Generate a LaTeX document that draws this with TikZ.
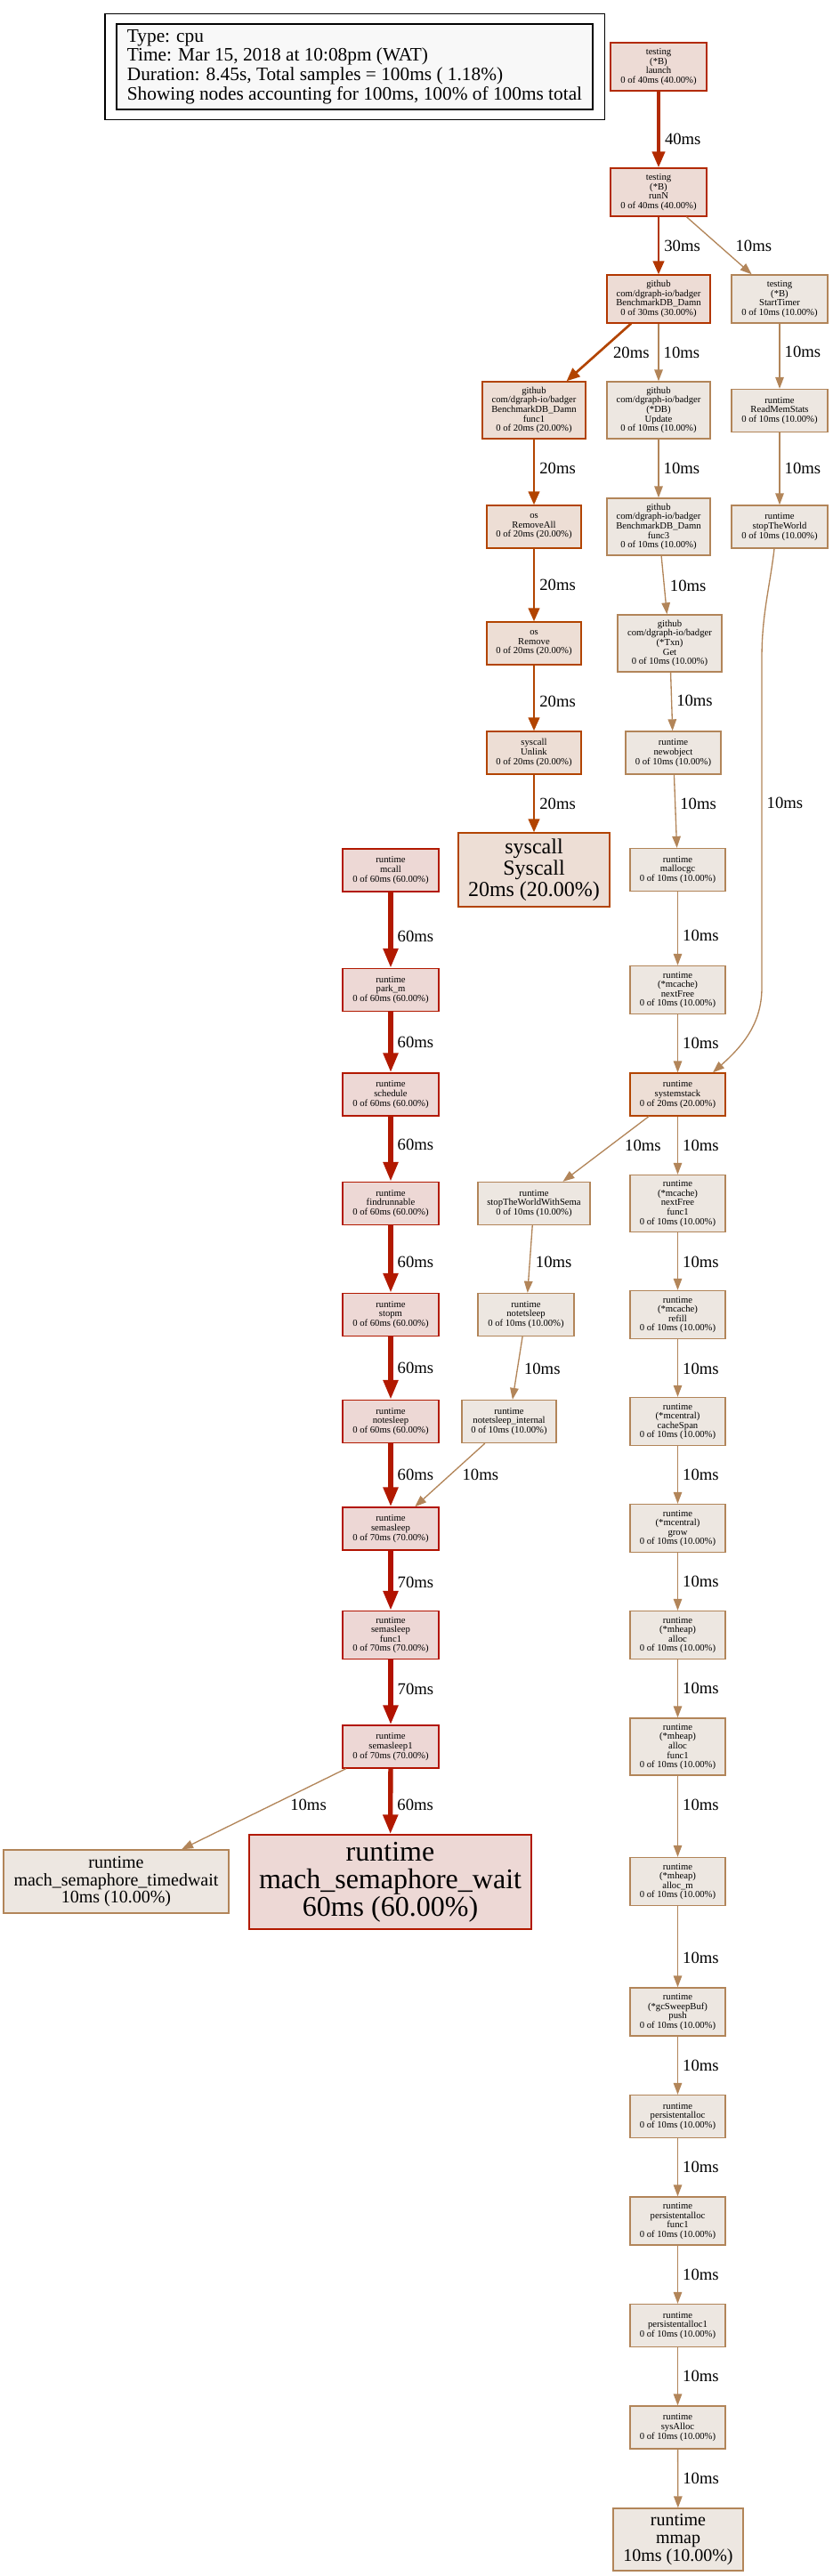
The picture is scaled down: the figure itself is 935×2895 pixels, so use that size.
\documentclass[tikz,border=0pt]{standalone}
\usepackage{fontspec}
\setmainfont{Liberation Serif}
\usepackage{tikz}
\usetikzlibrary{arrows.meta,fit}
\definecolor{line10}{HTML}{B28559}
\definecolor{line20}{HTML}{B24400}
\definecolor{line30}{HTML}{B23600}
\definecolor{line40}{HTML}{B22A00}
\definecolor{line60}{HTML}{B21900}
\definecolor{line70}{HTML}{B21200}
\definecolor{fill10}{HTML}{EDE7E1}
\definecolor{fill20}{HTML}{EDDED5}
\definecolor{fill30}{HTML}{EDDCD5}
\definecolor{fill40}{HTML}{EDDBD5}
\definecolor{fill60}{HTML}{EDD8D5}
\definecolor{fill70}{HTML}{EDD7D5}
\definecolor{legendfill}{HTML}{F8F8F8}
\newcommand\fsNode{\fontsize{10.67pt}{10.6pt}\selectfont}
\newcommand\fsEdge{\fontsize{18.67pt}{18.67pt}\selectfont}
\newcommand\fsLegend{\fontsize{21.33pt}{21.7pt}\selectfont}
\newcommand\fsMid{\fontsize{20pt}{19.7pt}\selectfont}
\newcommand\fsSys{\fontsize{24pt}{24pt}\selectfont}
\newcommand\fsWait{\fontsize{32pt}{31pt}\selectfont}

\begin{document}
\begin{tikzpicture}[x=1pt, y=-1pt,
  fn/.style={draw, line width=1.33pt, inner sep=0pt, align=center, font=\fsNode},
  n10/.style={fn, draw=line10, fill=fill10},
  n20/.style={fn, draw=line20, fill=fill20},
  n30/.style={fn, draw=line30, fill=fill30},
  n40/.style={fn, draw=line40, fill=fill40},
  n60/.style={fn, draw=line60, fill=fill60},
  n70/.style={fn, draw=line70, fill=fill70},
  sz/.style 2 args={minimum width=#1, minimum height=#2},
  legend/.style={draw=black, line width=1.33pt, fill=legendfill, align=left, font=\fsLegend,
                 inner xsep=10.5pt, inner ysep=0pt, minimum width=535pt, minimum height=96pt},
  lbl/.style={anchor=west, inner xsep=5pt, inner ysep=0pt, font=\fsEdge},
  e10/.style={-{Triangle[length=13pt,width=9.5pt]}, line width=1.33pt, draw=line10},
  e20/.style={-{Triangle[length=15pt,width=12.5pt]}, line width=2.67pt, draw=line20},
  e30/.style={-{Triangle[length=15pt,width=12.5pt]}, line width=2.67pt, draw=line30},
  e40/.style={-{Triangle[length=18pt,width=14pt]}, line width=4pt, draw=line40},
  e60/.style={-{Triangle[length=22pt,width=16pt]}, line width=5.33pt, draw=line60},
  e70/.style={-{Triangle[length=22pt,width=16pt]}, line width=5.33pt, draw=line70}]
\useasboundingbox (0,0) rectangle (935,2895);

\node[legend] (legend) at (398.5,75) {Type: cpu\\Time: Mar 15, 2018 at 10:08pm (WAT)\\Duration: 8.45s, Total samples = 100ms ( 1.18\%)\\Showing nodes accounting for 100ms, 100\% of 100ms total};
\node[draw, line width=1.33pt, inner xsep=12.5pt, inner ysep=11pt, fit=(legend)] (legendframe) {};

\node[n40, sz={108pt}{54pt}] (launch) at (740,75) {testing\\(*B)\\launch\\0 of 40ms (40.00\%)};
\node[n40, sz={108pt}{54pt}] (runN) at (740,216) {testing\\(*B)\\runN\\0 of 40ms (40.00\%)};
\node[n30, sz={116pt}{54pt}] (damn) at (740,336) {github\\com/dgraph-io/badger\\BenchmarkDB\_Damn\\0 of 30ms (30.00\%)};
\node[n10, sz={108pt}{54pt}] (starttimer) at (876,336) {testing\\(*B)\\StartTimer\\0 of 10ms (10.00\%)};
\node[n20, sz={116pt}{64pt}] (damnf1) at (600,461) {github\\com/dgraph-io/badger\\BenchmarkDB\_Damn\\func1\\0 of 20ms (20.00\%)};
\node[n10, sz={116pt}{64pt}] (update) at (740,461) {github\\com/dgraph-io/badger\\(*DB)\\Update\\0 of 10ms (10.00\%)};
\node[n10, sz={108pt}{48pt}] (readmem) at (876,461.5) {runtime\\ReadMemStats\\0 of 10ms (10.00\%)};
\node[n20, sz={106pt}{48pt}] (removeall) at (600,592) {os\\RemoveAll\\0 of 20ms (20.00\%)};
\node[n10, sz={116pt}{64pt}] (damnf3) at (740,592) {github\\com/dgraph-io/badger\\BenchmarkDB\_Damn\\func3\\0 of 10ms (10.00\%)};
\node[n10, sz={108pt}{48pt}] (stoptw) at (876,592) {runtime\\stopTheWorld\\0 of 10ms (10.00\%)};
\node[n20, sz={106pt}{48pt}] (remove) at (600,723) {os\\Remove\\0 of 20ms (20.00\%)};
\node[n10, sz={117pt}{64pt}] (get) at (752.5,723) {github\\com/dgraph-io/badger\\(*Txn)\\Get\\0 of 10ms (10.00\%)};
\node[n20, sz={106pt}{48pt}] (unlink) at (600,846) {syscall\\Unlink\\0 of 20ms (20.00\%)};
\node[n10, sz={107pt}{48pt}] (newobject) at (756.5,846) {runtime\\newobject\\0 of 10ms (10.00\%)};
\node[n20, sz={170pt}{83pt}, font=\fsSys] (syscall) at (600,977.5) {syscall\\Syscall\\20ms (20.00\%)};
\node[n10, sz={107pt}{48pt}] (mallocgc) at (761.5,977.5) {runtime\\mallocgc\\0 of 10ms (10.00\%)};

\node[n60, sz={108pt}{48pt}] (mcall) at (439,978) {runtime\\mcall\\0 of 60ms (60.00\%)};
\node[n60, sz={108pt}{48pt}] (parkm) at (439,1112.5) {runtime\\park\_m\\0 of 60ms (60.00\%)};
\node[n10, sz={107pt}{54pt}] (nextfree) at (761.5,1112.5) {runtime\\(*mcache)\\nextFree\\0 of 10ms (10.00\%)};
\node[n60, sz={108pt}{48pt}] (schedule) at (439,1230) {runtime\\schedule\\0 of 60ms (60.00\%)};
\node[n20, sz={107pt}{48pt}] (systemstack) at (761.5,1230) {runtime\\systemstack\\0 of 20ms (20.00\%)};
\node[n60, sz={108pt}{48pt}] (findrunnable) at (439,1352.5) {runtime\\findrunnable\\0 of 60ms (60.00\%)};
\node[n10, sz={126pt}{48pt}] (stwws) at (600,1352.5) {runtime\\stopTheWorldWithSema\\0 of 10ms (10.00\%)};
\node[n10, sz={107pt}{64pt}] (nextfreef1) at (761.5,1352.5) {runtime\\(*mcache)\\nextFree\\func1\\0 of 10ms (10.00\%)};
\node[n60, sz={108pt}{48pt}] (stopm) at (439,1477.5) {runtime\\stopm\\0 of 60ms (60.00\%)};
\node[n10, sz={108pt}{48pt}] (notetsleep) at (591,1477.5) {runtime\\notetsleep\\0 of 10ms (10.00\%)};
\node[n10, sz={107pt}{54pt}] (refill) at (761.5,1477.5) {runtime\\(*mcache)\\refill\\0 of 10ms (10.00\%)};
\node[n60, sz={108pt}{48pt}] (notesleep) at (439,1597.5) {runtime\\notesleep\\0 of 60ms (60.00\%)};
\node[n10, sz={106pt}{48pt}] (internal) at (572,1597.5) {runtime\\notetsleep\_internal\\0 of 10ms (10.00\%)};
\node[n10, sz={107pt}{54pt}] (cachespan) at (761.5,1597.5) {runtime\\(*mcentral)\\cacheSpan\\0 of 10ms (10.00\%)};
\node[n70, sz={108pt}{48pt}] (semasleep) at (439,1718) {runtime\\semasleep\\0 of 70ms (70.00\%)};
\node[n10, sz={107pt}{54pt}] (grow) at (761.5,1717.5) {runtime\\(*mcentral)\\grow\\0 of 10ms (10.00\%)};
\node[n70, sz={108pt}{54pt}] (semaf1) at (439,1837.5) {runtime\\semasleep\\func1\\0 of 70ms (70.00\%)};
\node[n10, sz={107pt}{54pt}] (alloc) at (761.5,1837.5) {runtime\\(*mheap)\\alloc\\0 of 10ms (10.00\%)};
\node[n70, sz={108pt}{48pt}] (semasleep1) at (439,1963) {runtime\\semasleep1\\0 of 70ms (70.00\%)};
\node[n10, sz={107pt}{64pt}] (allocf1) at (761.5,1963) {runtime\\(*mheap)\\alloc\\func1\\0 of 10ms (10.00\%)};
\node[n10, sz={253pt}{71pt}, font=\fsMid] (timedwait) at (130.5,2114.5) {runtime\\mach\_semaphore\_timedwait\\10ms (10.00\%)};
\node[n60, sz={317pt}{106pt}, font=\fsWait] (wait) at (438.5,2115) {runtime\\mach\_semaphore\_wait\\60ms (60.00\%)};
\node[n10, sz={107pt}{54pt}] (allocm) at (761.5,2114.5) {runtime\\(*mheap)\\alloc\_m\\0 of 10ms (10.00\%)};
\node[n10, sz={107pt}{54pt}] (push) at (761.5,2261) {runtime\\(*gcSweepBuf)\\push\\0 of 10ms (10.00\%)};
\node[n10, sz={107pt}{48pt}] (pa) at (761.5,2378.5) {runtime\\persistentalloc\\0 of 10ms (10.00\%)};
\node[n10, sz={107pt}{54pt}] (paf1) at (761.5,2496) {runtime\\persistentalloc\\func1\\0 of 10ms (10.00\%)};
\node[n10, sz={107pt}{48pt}] (pa1) at (761.5,2613.5) {runtime\\persistentalloc1\\0 of 10ms (10.00\%)};
\node[n10, sz={107pt}{48pt}] (sysalloc) at (761.5,2728) {runtime\\sysAlloc\\0 of 10ms (10.00\%)};
\node[n10, sz={146pt}{70pt}, font=\fsMid] (mmap) at (762,2854) {runtime\\mmap\\10ms (10.00\%)};

\draw[e40] (launch) -- node[lbl, pos=.63] {40ms} (runN);
\draw[e30] (runN) -- node[lbl, pos=.5] {30ms} (damn);
\draw[e10] (runN) -- node[lbl, pos=.5, xshift=13pt] {10ms} (starttimer);
\draw[e20] (damn) -- node[lbl, pos=.5, xshift=10pt] {20ms} (damnf1);
\draw[e10] (damn) -- node[lbl, pos=.5] {10ms} (update);
\draw[e10] (starttimer) -- node[lbl, pos=.44] {10ms} (readmem);
\draw[e20] (damnf1) -- node[lbl, pos=.45] {20ms} (removeall);
\draw[e10] (update) -- node[lbl, pos=.5] {10ms} (damnf3);
\draw[e10] (readmem) -- node[lbl, pos=.5] {10ms} (stoptw);
\draw[e20] (removeall) -- node[lbl, pos=.5] {20ms} (remove);
\draw[e10] (damnf3) -- node[lbl, pos=.51, xshift=1pt] {10ms} (get);
\draw[e10] ([xshift=-6pt]stoptw.south) .. controls (865,660) and (856,690) .. (856,740)
  -- node[lbl, pos=.44] {10ms} (856,1110) .. controls (856,1150) and (835,1175) .. (systemstack.32);
\draw[e20] (remove) -- node[lbl, pos=.55] {20ms} (unlink);
\draw[e10] (get) -- node[lbl, pos=.49] {10ms} (newobject);
\draw[e20] (unlink) -- node[lbl, pos=.5] {20ms} (syscall);
\draw[e10] (newobject) -- node[lbl, pos=.4] {10ms} (mallocgc);
\draw[e10] (mallocgc) -- node[lbl, pos=.6] {10ms} (nextfree);
\draw[e60] (mcall) -- node[lbl, pos=.58] {60ms} (parkm);
\draw[e60] (parkm) -- node[lbl, pos=.5] {60ms} (schedule);
\draw[e10] (nextfree) -- node[lbl, pos=.49] {10ms} (systemstack);
\draw[e60] (schedule) -- node[lbl, pos=.44] {60ms} (findrunnable);
\draw[e10] (systemstack) -- node[lbl, pos=.45, xshift=11pt] {10ms} (stwws);
\draw[e10] (systemstack) -- node[lbl, pos=.5] {10ms} (nextfreef1);
\draw[e60] (findrunnable) -- node[lbl, pos=.54] {60ms} (stopm);
\draw[e10] (stwws) -- node[lbl, pos=.54, xshift=1pt] {10ms} (notetsleep);
\draw[e10] (nextfreef1) -- node[lbl, pos=.51] {10ms} (refill);
\draw[e60] (stopm) -- node[lbl, pos=.5] {60ms} (notesleep);
\draw[e10] (notetsleep) -- node[lbl, pos=.51, xshift=2pt] {10ms} (internal);
\draw[e10] (refill) -- node[lbl, pos=.51] {10ms} (cachespan);
\draw[e60] (notesleep) -- node[lbl, pos=.5] {60ms} (semasleep);
\draw[e10] (internal) -- node[lbl, pos=.5, xshift=8.5pt] {10ms} (semasleep);
\draw[e10] (cachespan) -- node[lbl, pos=.5] {10ms} (grow);
\draw[e70] (semasleep) -- node[lbl, pos=.53] {70ms} (semaf1);
\draw[e10] (grow) -- node[lbl, pos=.5] {10ms} (alloc);
\draw[e70] (semaf1) -- node[lbl, pos=.45] {70ms} (semasleep1);
\draw[e10] (alloc) -- node[lbl, pos=.5] {10ms} (allocf1);
\draw[e10] (semasleep1) -- node[lbl, pos=.45, xshift=15pt] {10ms} (timedwait);
\draw[e60] (semasleep1) -- node[lbl, pos=.55] {60ms} (wait);
\draw[e10] (allocf1) -- node[lbl, pos=.36] {10ms} (allocm);
\draw[e10] (allocm) -- node[lbl, pos=.64] {10ms} (push);
\draw[e10] (push) -- node[lbl, pos=.5] {10ms} (pa);
\draw[e10] (pa) -- node[lbl, pos=.5] {10ms} (paf1);
\draw[e10] (paf1) -- node[lbl, pos=.5] {10ms} (pa1);
\draw[e10] (pa1) -- node[lbl, pos=.5] {10ms} (sysalloc);
\draw[e10] (sysalloc) -- node[lbl, pos=.5] {10ms} (mmap);
\end{tikzpicture}
\end{document}
